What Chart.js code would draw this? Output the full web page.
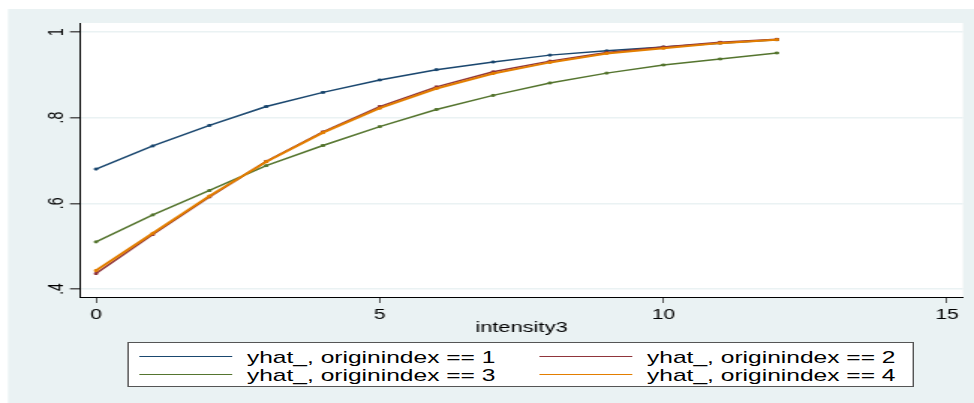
<!DOCTYPE html>
<html>
<head>
<meta charset="utf-8">
<script src="https://cdn.jsdelivr.net/npm/chart.js@4.4.1/dist/chart.umd.min.js"></script>
<style>
  html, body { margin: 0; padding: 0; background: #fff; overflow: hidden; }
  /* the reference is a horizontally stretched Stata graph, so draw narrow and stretch */
  #stage { position: absolute; left: 0; top: 0; width: 650px; height: 403px;
           transform: scaleX(1.49846); transform-origin: 0 0; }
  #stage canvas { position: absolute; left: 0; top: 0; }
  #legend { position: absolute; left: 85.4px; top: 342px; width: 524.6px; height: 45px;
            box-sizing: border-box; border: 1px solid #555; background: #fff;
            font-family: "Liberation Sans", Arial, sans-serif; font-size: 16.4px; color: #000; }
  .swatch { position: absolute; height: 1.5px; width: 61.4px; }
  .label { position: absolute; white-space: nowrap; line-height: 18px; }
</style>
</head>
<body>
<div id="stage">
  <canvas id="chart" width="650" height="403"></canvas>
  <div id="legend"></div>
</div>
<script>
"use strict";

const xValues = [0, 1, 2, 3, 4, 5, 6, 7, 8, 9, 10, 11, 12];
const origin1 = [0.680, 0.734, 0.782, 0.826, 0.859, 0.888, 0.912, 0.930, 0.946, 0.956, 0.965, 0.974, 0.982];
const origin2 = [0.436, 0.527, 0.615, 0.698, 0.767, 0.826, 0.872, 0.907, 0.932, 0.952, 0.965, 0.976, 0.983];
const origin3 = [0.510, 0.573, 0.630, 0.688, 0.735, 0.779, 0.819, 0.852, 0.881, 0.904, 0.923, 0.937, 0.951];
const origin4 = [0.443, 0.530, 0.617, 0.697, 0.765, 0.822, 0.868, 0.903, 0.929, 0.950, 0.962, 0.974, 0.982];
const seriesLabels = [
    'yhat_, originindex == 1',
    'yhat_, originindex == 2',
    'yhat_, originindex == 3',
    'yhat_, originindex == 4'
];
const xTicks = [0, 5, 10, 15];
const yTicks = [0.4, 0.6, 0.8, 1];
const yTickLabels = ['.4', '.6', '.8', '1'];
const xTitle = 'intensity3';

const colors = ['rgb(26,71,111)', 'rgb(144,53,59)', 'rgb(85,117,47)', 'rgb(227,126,0)'];
const FONT = '"Liberation Sans", Arial, sans-serif';
const series = [origin1, origin2, origin3, origin4];

// stata style background: grey graph region, white plot region
const background = {
    id: 'background',
    beforeDraw(chart) {
        const ctx = chart.ctx;
        const a = chart.chartArea;
        ctx.save();
        ctx.fillStyle = 'rgb(234,242,243)';
        ctx.fillRect(5.34, 9, chart.width - 5.34, chart.height - 9);
        ctx.fillStyle = '#fff';
        ctx.fillRect(a.left, a.top, a.right - a.left, a.bottom - a.top);
        ctx.restore();
    }
};

// y labels are turned on their side, like stata draws them
const yLabels = {
    id: 'yLabels',
    afterDraw(chart) {
        const ctx = chart.ctx;
        const ys = chart.scales.y;
        ctx.save();
        ctx.fillStyle = '#000';
        ctx.font = '14px ' + FONT;
        ctx.textAlign = 'center';
        ctx.textBaseline = 'alphabetic';
        yTicks.forEach((v, i) => {
            ctx.save();
            ctx.translate(ys.right - 11.5, ys.getPixelForValue(v));
            ctx.rotate(-Math.PI / 2);
            ctx.fillText(yTickLabels[i], 0, 0);
            ctx.restore();
        });
        ctx.restore();
    }
};

const datasets = series.map((arr, i) => ({
    label: seriesLabels[i],
    data: xValues.map((x, j) => ({ x: x, y: arr[j] })),
    borderColor: colors[i],
    backgroundColor: colors[i],
    borderWidth: i === 3 ? 2 : 1.5,
    pointStyle: 'rect',
    pointRadius: 1.3,
    pointBorderWidth: 1,
    pointBackgroundColor: colors[i],
    tension: 0,
    order: 3 - i
}));

new Chart(document.getElementById('chart'), {
    type: 'line',
    data: { datasets: datasets },
    options: {
        responsive: false,
        animation: false,
        layout: { padding: { left: 0, right: 7.4, top: 23, bottom: 66 } },
        plugins: { legend: { display: false }, tooltip: { enabled: false } },
        scales: {
            x: {
                type: 'linear',
                min: -0.282,
                max: 15.28,
                afterBuildTicks: s => { s.ticks = xTicks.map(v => ({ value: v })); },
                afterFit: s => { s.height = 40; },
                grid: { drawOnChartArea: false, tickLength: 6, tickColor: '#555' },
                border: { color: '#000', width: 1 },
                ticks: { font: { size: 14, family: FONT }, color: '#000', padding: 3.5, maxRotation: 0, autoSkip: false },
                title: { display: true, text: xTitle, color: '#000', font: { size: 14.6, family: FONT }, padding: 0 }
            },
            y: {
                type: 'linear',
                min: 0.3813,
                max: 1.021,
                afterBuildTicks: s => { s.ticks = yTicks.map(v => ({ value: v })); },
                afterFit: s => { s.width = 53.4; },
                grid: { color: 'rgb(234,242,243)', lineWidth: 1.5, tickLength: 6.7, tickColor: '#555' },
                border: { color: '#000', width: 1 },
                ticks: { display: false }
            }
        }
    },
    plugins: [background, yLabels]
});

// legend box, two columns
const legend = document.getElementById('legend');
const cols = [[7, 78.4], [274, 345.4]];
const rows = [13.5, 31.5];
seriesLabels.forEach((text, i) => {
    const c = cols[i % 2];
    const r = rows[Math.floor(i / 2)];
    const sw = document.createElement('div');
    sw.className = 'swatch';
    sw.style.left = c[0] + 'px';
    sw.style.top = (r - 0.75) + 'px';
    sw.style.background = colors[i];
    legend.appendChild(sw);
    const lb = document.createElement('div');
    lb.className = 'label';
    lb.style.left = c[1] + 'px';
    lb.style.top = (r - 9) + 'px';
    lb.textContent = text;
    legend.appendChild(lb);
});
</script>
</body>
</html>
